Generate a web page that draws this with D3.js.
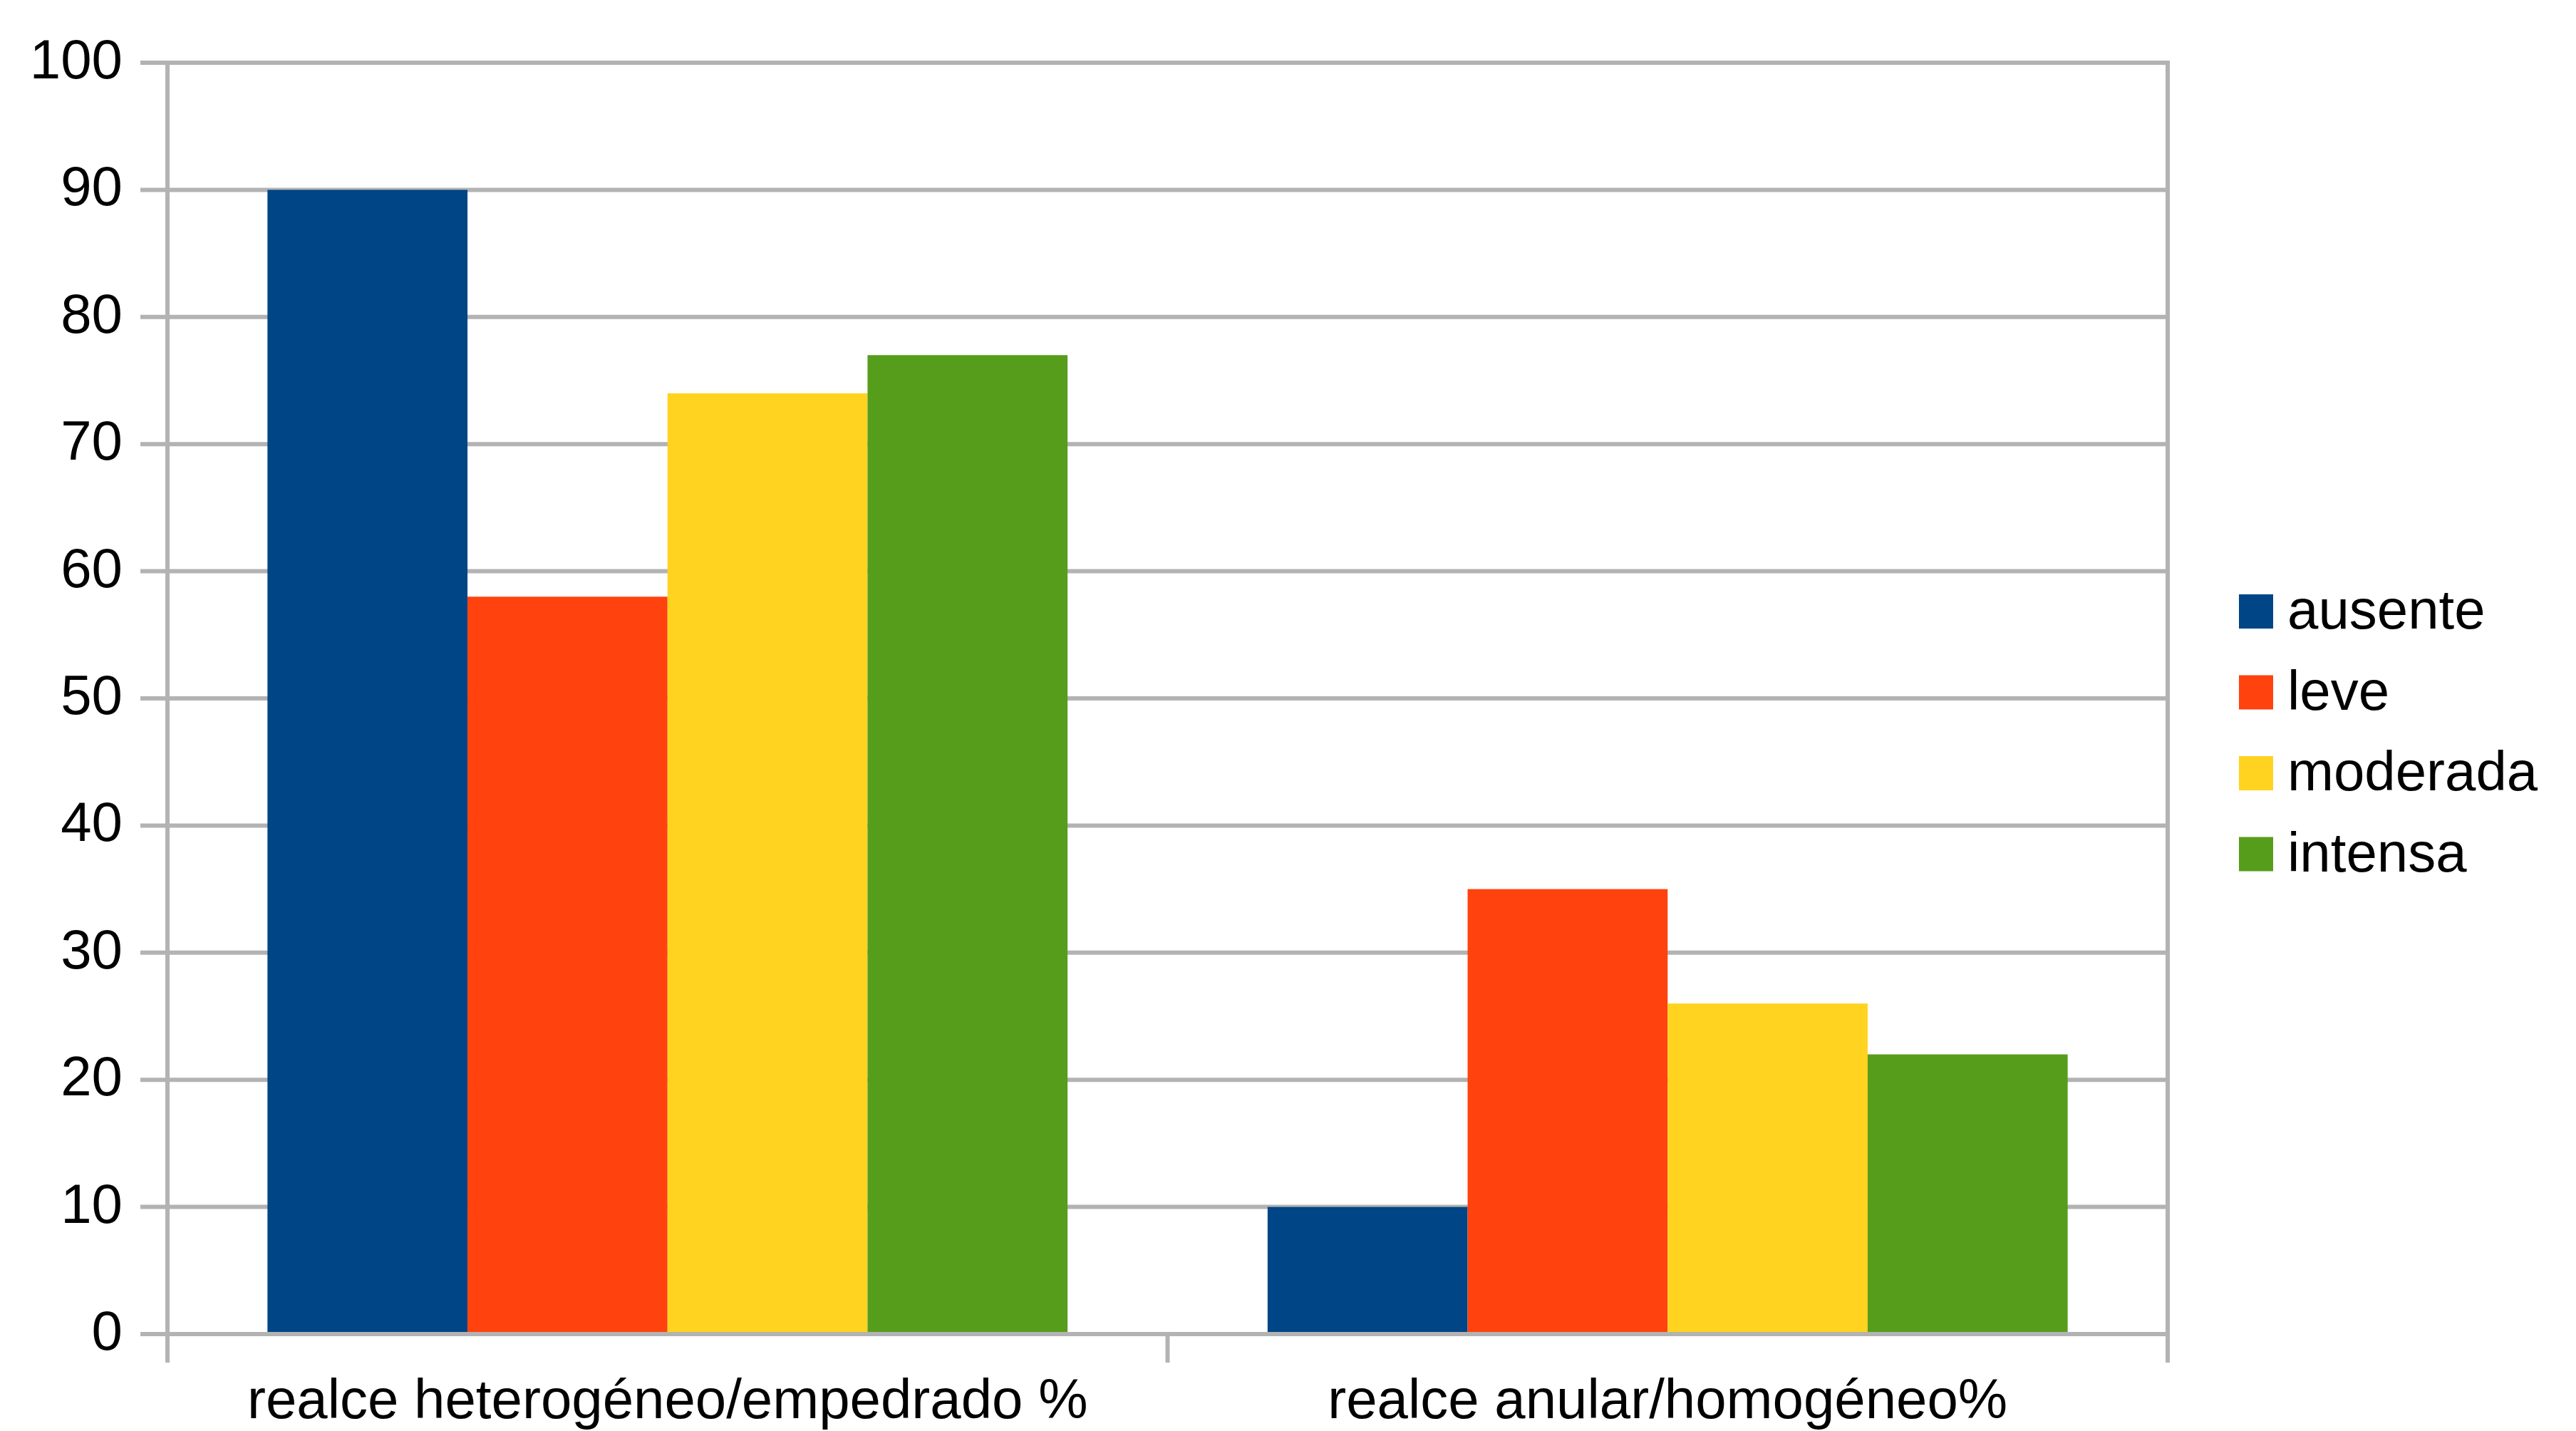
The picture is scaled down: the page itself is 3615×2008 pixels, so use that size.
<!DOCTYPE html>
<html>
<head>
<meta charset="utf-8">
<script src="https://cdn.jsdelivr.net/npm/d3@7"></script>
<style>
  body { margin: 0; background: #ffffff; }
  text { font-family: "Liberation Sans", Arial, sans-serif; fill: #000000; }
</style>
</head>
<body>
<div id="container"></div>
<script>
/*
    Chart data
*/
var categories = ["realce heterogéneo/empedrado %", "realce anular/homogéneo%"];
var series = ["ausente", "leve", "moderada", "intensa"];
var ausente = [90, 10];
var leve = [58, 35];
var moderada = [74, 26];
var intensa = [77, 22];
var yTicks = [0, 10, 20, 30, 40, 50, 60, 70, 80, 90, 100];
var colors = ["#004586", "#ff420e", "#ffd320", "#579d1c"];

var seriesValues = [ausente, leve, moderada, intensa];

var width = 3615;
var height = 2008;
var margin = {top: 88, right: 573, bottom: 136, left: 235};
var gridColor = "#b3b3b3";
var fontSize = 78;

var svg = d3.select("#container").append("svg")
    .attr("width", width)
    .attr("height", height);

/*
    Scales
*/
var y = d3.scaleLinear()
    .domain([0, 100])
    .range([height - margin.bottom, margin.top]);

var x0 = d3.scaleBand()
    .domain(categories)
    .range([margin.left, width - margin.right])
    .paddingInner(0)
    .paddingOuter(0);

var x1 = d3.scaleBand()
    .domain(series)
    .range([0, x0.bandwidth()])
    .paddingInner(0)
    .paddingOuter(0.5);

/*
    Gridlines + y tick marks
*/
var g = svg.append("g");

g.selectAll(".grid")
    .data(yTicks)
    .enter().append("line")
    .attr("class", "grid")
    .attr("x1", margin.left - 38)
    .attr("x2", width - margin.right)
    .attr("y1", function (d) { return y(d); })
    .attr("y2", function (d) { return y(d); })
    .attr("stroke", gridColor)
    .attr("stroke-width", 6);

/*
    Bars
*/
var rows = [];
categories.forEach(function (c, i) {
    series.forEach(function (s, j) {
        rows.push({cat: c, ser: s, value: seriesValues[j][i], color: colors[j]});
    });
});

g.selectAll(".bar")
    .data(rows)
    .enter().append("rect")
    .attr("class", "bar")
    .attr("x", function (d) { return x0(d.cat) + x1(d.ser); })
    .attr("y", function (d) { return y(d.value); })
    .attr("width", x1.bandwidth())
    .attr("height", function (d) { return y(0) - y(d.value); })
    .attr("fill", function (d) { return d.color; });

/*
    Axis lines: vertical boundaries of the category bands
*/
var boundaries = [margin.left].concat(categories.map(function (c) { return x0(c) + x0.bandwidth(); }));

g.selectAll(".vline")
    .data(boundaries)
    .enter().append("line")
    .attr("class", "vline")
    .attr("x1", function (d) { return d; })
    .attr("x2", function (d) { return d; })
    .attr("y1", function (d, i) { return (i == 1) ? y(0) : y(100) - 3; })
    .attr("y2", y(0) + 40)
    .attr("stroke", gridColor)
    .attr("stroke-width", 6);

g.append("line")
    .attr("x1", margin.left - 38)
    .attr("x2", width - margin.right + 3)
    .attr("y1", y(0))
    .attr("y2", y(0))
    .attr("stroke", gridColor)
    .attr("stroke-width", 6);

/*
    Y tick labels
*/
g.selectAll(".ylabel")
    .data(yTicks)
    .enter().append("text")
    .attr("class", "ylabel")
    .attr("x", 172)
    .attr("y", function (d) { return y(d) + 22; })
    .attr("text-anchor", "end")
    .style("font-size", fontSize + "px")
    .text(function (d) { return d; });

/*
    Category labels
*/
g.selectAll(".xlabel")
    .data(categories)
    .enter().append("text")
    .attr("class", "xlabel")
    .attr("x", function (d) { return x0(d) + x0.bandwidth() / 2; })
    .attr("y", 1990)
    .attr("text-anchor", "middle")
    .style("font-size", fontSize + "px")
    .text(function (d) { return d; });

/*
    Legend
*/
var legend = svg.append("g")
    .attr("transform", "translate(3142, 834)");

var item = legend.selectAll(".legend-item")
    .data(series)
    .enter().append("g")
    .attr("class", "legend-item")
    .attr("transform", function (d, i) { return "translate(0," + (i * 113.5) + ")"; });

item.append("rect")
    .attr("width", 48)
    .attr("height", 48)
    .attr("fill", function (d, i) { return colors[i]; });

item.append("text")
    .attr("x", 68)
    .attr("y", 48)
    .style("font-size", fontSize + "px")
    .text(function (d) { return d; });
</script>
</body>
</html>
